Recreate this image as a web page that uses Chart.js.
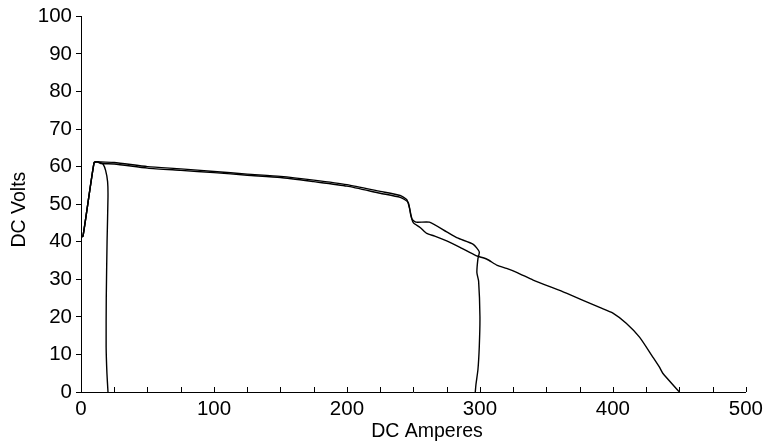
<!DOCTYPE html>
<html lang="en">
<head>
    <meta charset="UTF-8" />
    <title>DC Volts vs DC Amperes</title>
    <script src="https://cdn.jsdelivr.net/npm/chart.js"></script>
    <style>
        html, body { margin: 0; padding: 0; background: #fff; }
        #wrap { width: 768px; height: 444px; }
    </style>
</head>
<body>
    <div id="wrap"><canvas id="chart" width="768" height="444"></canvas></div>

    <script>
        // curve that collapses near 20 A
        const curveAAmps  = [0, 1.5, 9.8, 12, 15, 16.5, 18.5, 20, 20.3, 19.6, 19, 18.9, 19.5, 20.3];
        const curveAVolts = [41.3, 41.5, 61, 61.3, 61, 60.7, 59, 56, 52, 40, 25, 12, 5, 0];

        // upper curve, collapses near 300 A
        const curveBAmps  = [0, 1.5, 9.8, 12, 15, 25, 50, 75, 100, 125, 150, 175, 200, 225, 240, 245, 247, 249, 252, 262, 275, 283, 295, 299.5, 298.5, 297.7, 299, 300, 299.5, 298.5, 297, 296.5];
        const curveBVolts = [41.3, 41.5, 61, 61.3, 61.2, 61.1, 60, 59.4, 58.7, 58, 57.4, 56.4, 55.2, 53.4, 52.3, 51.2, 49, 46, 45.2, 45.2, 42.6, 41, 39.3, 37.3, 35.5, 31.8, 29.5, 20, 12, 6, 2, 0];

        // lower curve, runs out to 450 A
        const curveCAmps  = [0, 1.5, 9.8, 12, 15, 25, 50, 75, 100, 125, 150, 175, 200, 225, 240, 246, 248, 250, 255, 260, 266, 275, 285, 297, 305, 313, 320, 328, 340, 365, 390, 400, 410, 420, 430, 435, 437.5, 450];
        const curveCVolts = [41.3, 41.5, 61, 61.3, 60.8, 60.7, 59.6, 59, 58.4, 57.7, 57.1, 56, 54.8, 52.9, 51.8, 50.5, 47, 45, 43.8, 42.2, 41.5, 40.2, 38.5, 36.3, 35.4, 33.7, 32.9, 31.8, 29.8, 26.3, 22.5, 21, 18.3, 14.6, 9.3, 6.6, 5, 0];

        const xLabels = [0, 100, 200, 300, 400, 500];
        const yLabels = [0, 10, 20, 30, 40, 50, 60, 70, 80, 90, 100];
        const xMinorStep = 25;

        function toPoints(xs, ys) {
            return xs.map((x, i) => ({ x: x, y: ys[i] }));
        }

        function lineSet(xs, ys) {
            return {
                data: toPoints(xs, ys),
                showLine: true,
                borderColor: '#000',
                borderWidth: 1.4,
                pointRadius: 0,
                tension: 0.2,
                fill: false
            };
        }

        // x ticks in the original point up into the plot
        const innerTicks = {
            id: 'innerTicks',
            afterDraw(chart) {
                const ctx = chart.ctx;
                const xs = chart.scales.x;
                const bottom = chart.chartArea.bottom;
                ctx.save();
                ctx.strokeStyle = '#000';
                ctx.lineWidth = 1;
                ctx.beginPath();
                for (let v = xs.min; v <= xs.max; v += xMinorStep) {
                    const px = Math.round(xs.getPixelForValue(v)) + 0.5;
                    ctx.moveTo(px, bottom);
                    ctx.lineTo(px, bottom - 5);
                }
                ctx.stroke();
                ctx.restore();
            }
        };

        const font = "'Liberation Sans', Arial, Helvetica, sans-serif";

        new Chart(document.getElementById('chart'), {
            type: 'scatter',
            data: {
                datasets: [
                    lineSet(curveAAmps, curveAVolts),
                    lineSet(curveBAmps, curveBVolts),
                    lineSet(curveCAmps, curveCVolts)
                ]
            },
            options: {
                responsive: false,
                animation: false,
                layout: { padding: { top: 15, right: 22, left: 0, bottom: 0 } },
                plugins: {
                    legend: { display: false },
                    tooltip: { enabled: false }
                },
                scales: {
                    x: {
                        type: 'linear',
                        min: 0,
                        max: 500,
                        afterBuildTicks(scale) {
                            scale.ticks = xLabels.map(v => ({ value: v }));
                        },
                        afterFit(scale) { scale.height = 52; },
                        grid: { drawOnChartArea: false, drawTicks: false },
                        border: { color: '#000', width: 1 },
                        ticks: {
                            color: '#000',
                            padding: 5,
                            maxRotation: 0,
                            autoSkip: false,
                            font: { family: font, size: 20.5 }
                        },
                        title: {
                            display: true,
                            // title sits a little right of centre in the original
                            text: '     DC Amperes',
                            color: '#000',
                            padding: { top: 0, bottom: 1 },
                            font: { family: font, size: 19.5 }
                        }
                    },
                    y: {
                        type: 'linear',
                        min: 0,
                        max: 100,
                        afterBuildTicks(scale) {
                            scale.ticks = yLabels.map(v => ({ value: v }));
                        },
                        afterFit(scale) { scale.width = 81; },
                        grid: { drawOnChartArea: false, drawTicks: true, tickLength: 5, color: '#000' },
                        border: { color: '#000', width: 1 },
                        ticks: {
                            color: '#000',
                            padding: 4,
                            autoSkip: false,
                            font: { family: font, size: 20.5 }
                        },
                        title: {
                            display: true,
                            text: 'DC Volts  ',
                            color: '#000',
                            padding: { top: 8, bottom: 0 },
                            font: { family: font, size: 19.5 }
                        }
                    }
                }
            },
            plugins: [innerTicks]
        });
    </script>
</body>
</html>
